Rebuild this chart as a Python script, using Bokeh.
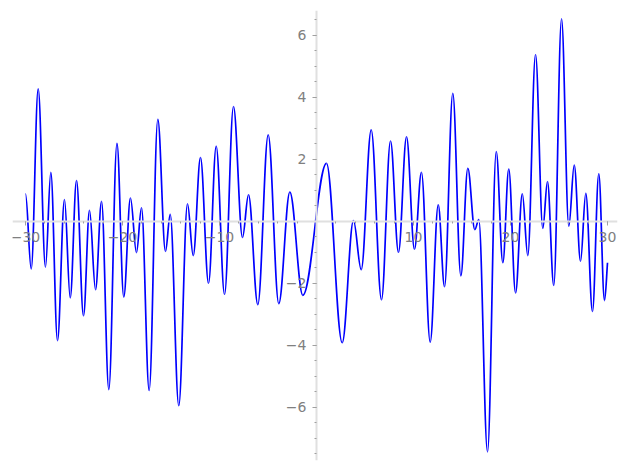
from bokeh.plotting import figure
from bokeh.models import LinearAxis, FixedTicker, Range1d
from bokeh.embed import file_html
from bokeh.resources import INLINE

# local extrema (and endpoints) of the curve
x_pts = [-30.0, -29.41, -28.69, -27.94, -27.39, -26.70, -25.98, -25.39, -24.74, -24.02,
         -23.40, -22.78, -22.16, -21.41, -20.57, -19.87, -19.18, -18.56, -18.04, -17.25,
         -16.36, -15.57, -15.08, -14.20, -13.30, -12.71, -11.96, -11.13, -10.34, -9.48,
         -8.56, -7.63, -7.01, -6.05, -4.98, -3.89, -2.75, -1.41, 1.03, 2.65,
         3.81, 4.61, 5.64, 6.70, 7.63, 8.45, 9.28, 10.10, 10.82, 11.72,
         12.55, 13.20, 14.05, 14.88, 15.60, 16.32, 16.73, 17.63, 18.53, 19.21,
         19.82, 20.52, 21.22, 21.78, 22.58, 23.33, 23.81, 24.46, 25.26, 26.01,
         26.57, 27.22, 27.76, 28.45, 29.10, 29.69, 30.0]
y_pts = [0.88, -1.54, 4.27, -1.48, 1.58, -3.85, 0.70, -2.47, 1.31, -3.05,
         0.35, -2.21, 0.64, -5.43, 2.51, -2.44, 0.75, -1.01, 0.43, -5.46,
         3.29, -0.97, 0.22, -5.95, 0.56, -1.11, 2.05, -2.00, 2.42, -2.36,
         3.70, -0.52, 0.85, -2.69, 2.79, -2.66, 0.94, -2.39, 1.87, -3.92,
         0.02, -1.56, 2.95, -2.53, 2.59, -1.00, 2.72, -0.90, 1.58, -3.90,
         0.53, -2.11, 4.13, -1.76, 1.71, -0.27, 0.05, -7.44, 2.25, -1.34,
         1.68, -2.31, 0.88, -1.11, 5.38, -0.23, 1.28, -2.07, 6.53, -0.16,
         1.81, -1.29, 0.90, -2.91, 1.53, -2.56, -1.34]

x_major = [-30, -20, -10, 10, 20, 30]
x_minor = [-30, -28, -26, -24, -22, -20, -18, -16, -14, -12, -10, -8, -6, -4, -2,
           2, 4, 6, 8, 10, 12, 14, 16, 18, 20, 22, 24, 26, 28, 30]
y_major = [-6, -4, -2, 2, 4, 6]
y_minor = [-7.5, -7, -6.5, -6, -5.5, -5, -4.5, -4, -3.5, -3, -2.5, -2, -1.5, -1, -0.5,
           0.5, 1, 1.5, 2, 2.5, 3, 3.5, 4, 4.5, 5, 5.5, 6, 6.5]
x_labels = {-30: "\u221230", -20: "\u221220", -10: "\u221210", 10: "10", 20: "20", 30: "30"}
y_labels = {-6: "\u22126", -4: "\u22124", -2: "\u22122", 2: "2", 4: "4", 6: "6"}

p = figure(frame_width=605, frame_height=450, output_backend="svg", toolbar_location=None,
           x_range=Range1d(-31.34, 31.03), y_range=Range1d(-7.72, 6.80),
           x_axis_location=None, y_axis_location=None,
           min_border_left=12, min_border_right=8, min_border_top=10, min_border_bottom=8)
p.grid.visible = False
p.outline_line_color = None
p.background_fill_color = "white"

# smooth curve: cubic segments between consecutive extrema
x0 = x_pts[:-1]; y0 = y_pts[:-1]; x1 = x_pts[1:]; y1 = y_pts[1:]
cx0 = [a + 0.36 * (b - a) for a, b in zip(x0, x1)]
cx1 = [b - 0.36 * (b - a) for a, b in zip(x0, x1)]
cy0 = list(y0)
cy1 = list(y1)
cy1[-1] = y1[-1] - 0.4 * (y1[-1] - y0[-1])
p.bezier(x0=x0, y0=y0, x1=x1, y1=y1, cx0=cx0, cy0=cy0, cx1=cx1, cy1=cy1,
         line_color="#0000ff", line_width=1.7)

def style(ax):
    ax.axis_line_color = "#e0e0e0"
    ax.axis_line_width = 2
    ax.major_tick_line_color = "#a0a0a0"
    ax.minor_tick_line_color = "#a0a0a0"
    ax.major_tick_in = 0
    ax.major_tick_out = 4
    ax.minor_tick_in = 0
    ax.minor_tick_out = 2
    ax.major_label_text_font = "DejaVu Sans"
    ax.major_label_text_font_size = "14px"
    ax.major_label_text_color = "#808080"

xaxis = LinearAxis(fixed_location=0, ticker=FixedTicker(ticks=x_major, minor_ticks=x_minor),
                   major_label_overrides=x_labels)
style(xaxis)
xaxis.major_label_standoff = 7
p.add_layout(xaxis, "below")

yaxis = LinearAxis(fixed_location=0, ticker=FixedTicker(ticks=y_major, minor_ticks=y_minor),
                   major_label_overrides=y_labels)
style(yaxis)
yaxis.major_label_standoff = 6
p.add_layout(yaxis, "left")

open("out.html", "w").write(file_html(p, INLINE))
